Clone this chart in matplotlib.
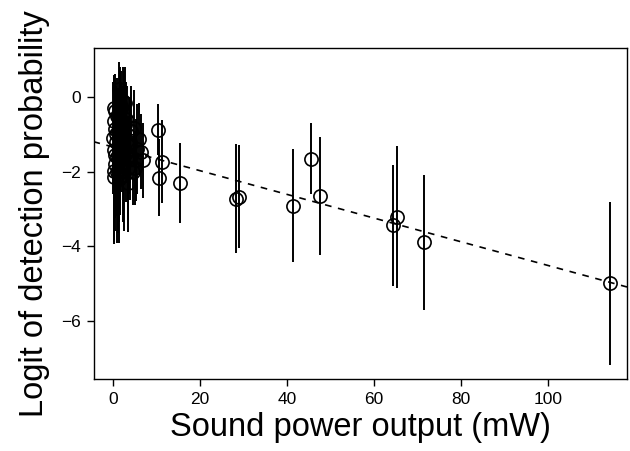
import matplotlib
matplotlib.use("Agg")
import matplotlib.pyplot as plt
import numpy as np

# Sound power output (mW)
power = [1.4, 2.4, 2.8, 0.2, 0.4, 2.5, 1.0, 0.3, 1.8, 4.8,
         0.5, 1.2, 3.2, 6.0, 0.1, 0.7, 2.0, 1.5, 0.2, 6.5,
         2.9, 4.0, 0.9, 1.7, 5.3, 6.9, 0.4, 2.2, 3.5, 1.1,
         0.3, 4.5, 0.3, 2.6, 1.4, 3.4, 0.8, 1.9, 3.0, 3.8,
         5.5, 4.2, 2.3, 0.6, 1.3, 5.0, 2.7, 1.6, 0.5, 3.6,
         10.3, 10.5, 11.2, 15.5, 28.2, 29.0, 41.3, 45.6, 47.5,
         64.3, 65.4, 71.5, 114.3]
# Logit of detection probability
logit = [0.22, -0.10, -0.15, -0.30, -0.38, -0.40, -0.50, -0.65, -0.70, -0.82,
         -0.85, -0.95, -1.00, -1.12, -1.10, -1.20, -1.25, -1.35, -1.42, -1.47,
         -1.50, -1.55, -1.60, -1.65, -1.69, -1.70, -1.80, -1.85, -1.90, -1.95,
         -1.98, -2.00, -2.13, -2.10, -2.20, -2.31, -2.00, -0.30, -0.60, -1.20,
         -1.40, -0.90, -1.00, -1.00, -1.75, -1.90, -0.75, -0.20, -1.55, -1.30,
         -0.88, -2.16, -1.73, -2.31, -2.72, -2.67, -2.91, -1.66, -2.65,
         -3.44, -3.22, -3.89, -4.99]
# half-width of the interval
halfwidth = [0.72, 0.90, 0.95, 0.90, 1.00, 1.10, 1.00, 1.20, 1.10, 1.00,
             1.30, 1.20, 1.30, 0.95, 1.50, 1.40, 1.30, 1.40, 1.60, 1.00,
             1.30, 1.20, 1.60, 1.50, 1.10, 1.00, 1.80, 1.50, 1.40, 1.70,
             1.90, 0.90, 1.80, 1.50, 1.70, 1.30, 1.90, 1.00, 1.00, 1.10,
             1.20, 1.20, 1.30, 1.30, 1.60, 1.00, 1.10, 1.00, 1.70, 1.30,
             0.68, 1.03, 1.10, 1.07, 1.45, 1.38, 1.52, 0.95, 1.58,
             1.62, 1.90, 1.80, 2.18]

# fitted line
fit_intercept = -1.34
fit_slope = -0.0317

xticks = [0, 20, 40, 60, 80, 100]
yticks = [0, -2, -4, -6]

plt.rcParams['font.family'] = ['Liberation Sans', 'DejaVu Sans']

fig = plt.figure(figsize=(6.3, 4.51), dpi=100)
ax = fig.add_axes([93.5/630, 1 - 379/451, (627-93.5)/630, (379-48)/451])

ax.errorbar(power, logit, yerr=halfwidth, fmt='o', mfc='none', mec='black',
            mew=1.2, ms=9.5, ecolor='black', elinewidth=1.4, capsize=0, zorder=3)
ax.axline((0, fit_intercept), slope=fit_slope, color='black', lw=1.2,
          dashes=(4, 4), zorder=2)

ax.set_xlim(-4.49, 118.2)
ax.set_ylim(-7.55, 1.31)
ax.set_xticks(xticks)
ax.set_yticks(yticks)
ax.set_xticklabels([str(t) for t in xticks])
ax.set_yticklabels([str(t).replace('-', '\u2212') for t in yticks])
ax.tick_params(direction='out', length=5, width=1, labelsize=12.5, pad=4,
               top=False, right=False)
for s in ax.spines.values():
    s.set_linewidth(1.0)

ax.set_xlabel('Sound power output (mW)', fontsize=23.5, labelpad=4)
ax.set_ylabel('Logit of detection probability', fontsize=23.5, labelpad=8)

fig.savefig('out.png', dpi=100)
